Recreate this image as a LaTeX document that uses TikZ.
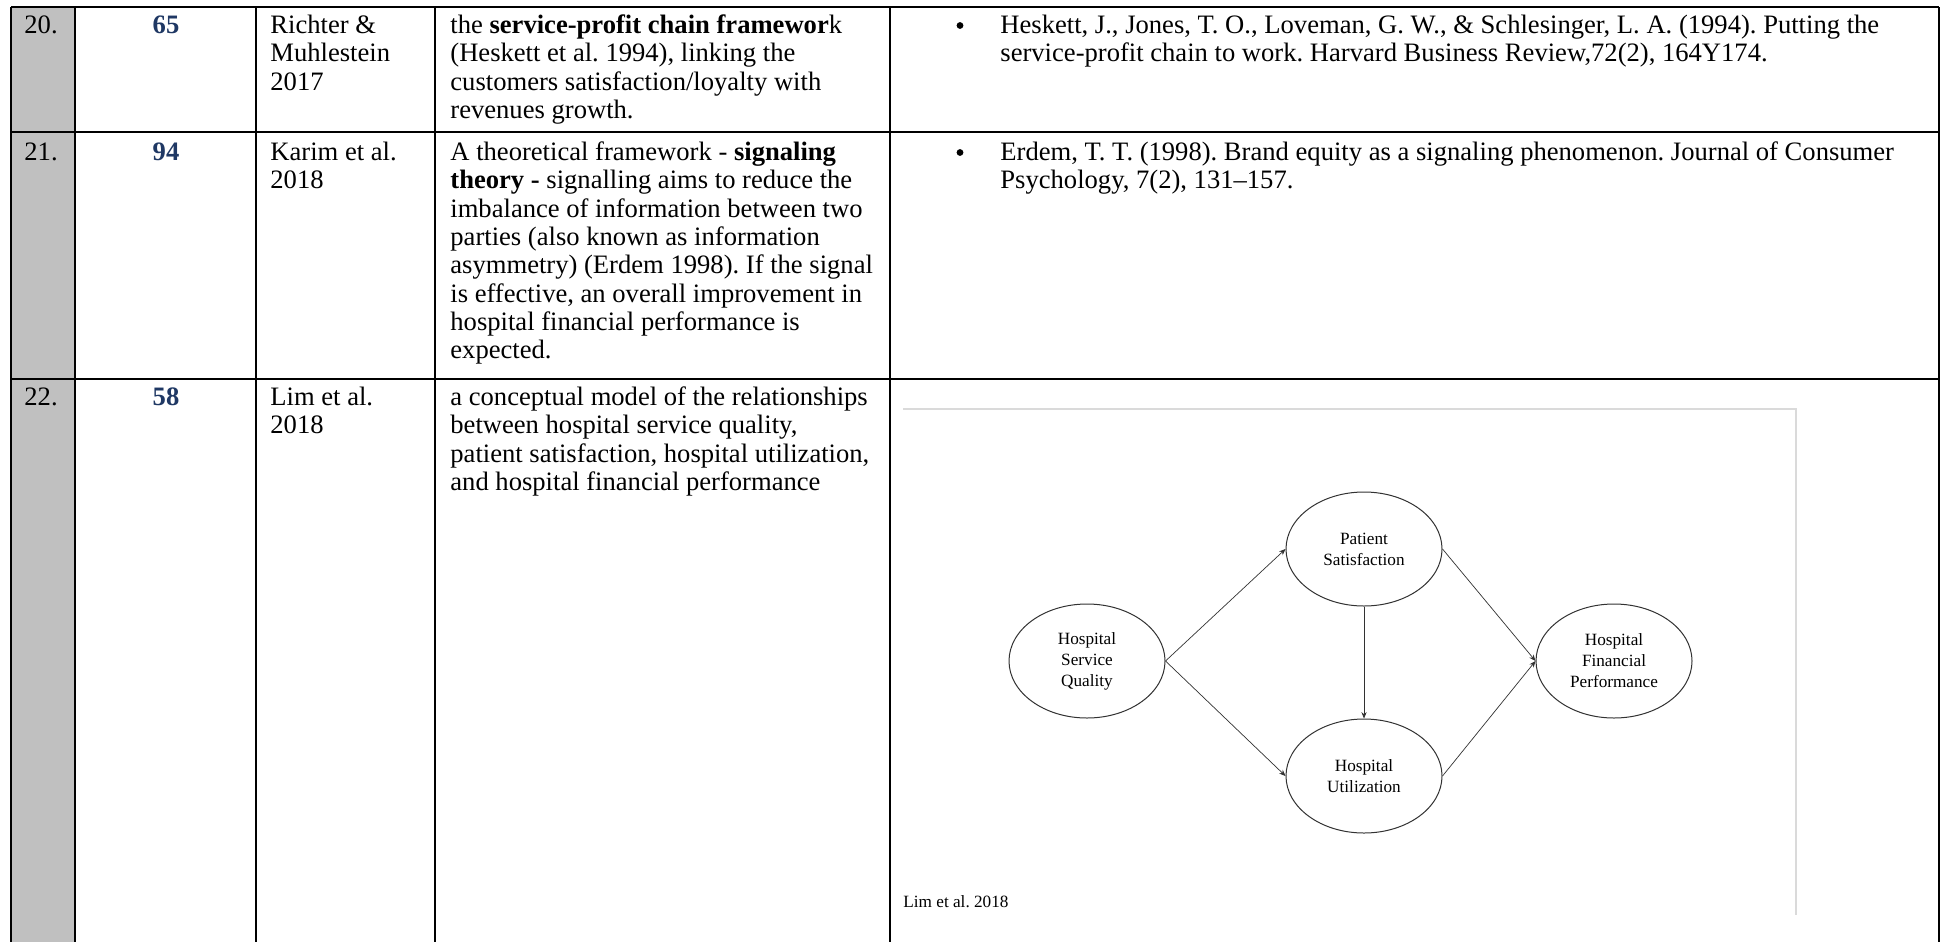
\documentclass[tikz,border=0pt]{standalone}
\usepackage{fontspec}
\setmainfont{Liberation Serif}
\usetikzlibrary{shapes.geometric,arrows.meta}
\definecolor{numblue}{RGB}{31,56,100}
\definecolor{colgray}{RGB}{192,192,192}
\definecolor{framegray}{RGB}{218,218,218}
\definecolor{ellgray}{RGB}{50,50,50}
\newcommand{\maintext}{\fontsize{13.3}{14.15}\selectfont\frenchspacing}
\newcommand{\figtext}{\fontsize{8.6}{10.5}\selectfont\frenchspacing}
\begin{document}
\begin{tikzpicture}[x=0.5pt,y=-0.5pt,
  cell/.style={anchor=north west,inner sep=0pt,align=left,font=\maintext},
  rownum/.style={anchor=base west,inner sep=0pt,font=\maintext},
  num/.style={anchor=base,inner sep=0pt,font=\maintext\bfseries,text=numblue},
  bul/.style={circle,fill=black,inner sep=0pt,minimum size=3.4pt},
  rule/.style={line width=1pt,black},
  ell/.style={ellipse,draw=ellgray,line width=0.5pt,minimum width=78pt,minimum height=57pt,inner sep=0pt,align=center,font=\figtext},
  arr/.style={draw=ellgray,line width=0.35pt,-{Stealth[length=3.2pt,width=2.6pt]}}]
\useasboundingbox (0,0) rectangle (1946,942);
\fill[white] (0,0) rectangle (1946,942);
% gray first column
\fill[colgray] (11,7) rectangle (75,942);
% table rules
\draw[rule] (11,7) -- (1939,7);
\draw[rule] (11,132) -- (1939,132);
\draw[rule] (11,379) -- (1939,379);
\foreach \xx in {11,75,256,435,890,1939} \draw[rule] (\xx,7) -- (\xx,942);

% Row 20
\node[rownum] (n20) at (24,33) {20.};
\node[num] (c20) at (166,33) {65};
\node[cell] (a20) at (270,13.3) {\strut Richter \&\\Muhlestein\\2017};
\node[cell] (d20) at (450,13.3) {\strut the \textbf{service-profit chain framewor}k\\(Heskett et al. 1994), linking the\\customers satisfaction/loyalty with\\revenues growth.};
\node[bul] (b20) at (960,25.5) {};
\node[cell] (r20) at (1000,13.3) {\strut Heskett, J., Jones, T. O., Loveman, G. W., \& Schlesinger, L. A. (1994). Putting the\\service-profit chain to work. Harvard Business Review,72(2), 164Y174.};

% Row 21
\node[rownum] (n21) at (24,160) {21.};
\node[num] (c21) at (166,160) {94};
\node[cell] (a21) at (270,140.3) {\strut Karim et al.\\2018};
\node[cell] (d21) at (450,140.3) {\strut A theoretical framework - \textbf{signaling}\\\textbf{theory -} signalling aims to reduce the\\imbalance of information between two\\parties (also known as information\\asymmetry) (Erdem 1998). If the signal\\is effective, an overall improvement in\\hospital financial performance is\\expected.};
\node[bul] (b21) at (960,152.5) {};
\node[cell] (r21) at (1000,140.3) {\strut Erdem, T. T. (1998). Brand equity as a signaling phenomenon. Journal of Consumer\\Psychology, 7(2), 131--157.};

% Row 22
\node[rownum] (n22) at (24,405) {22.};
\node[num] (c22) at (166,405) {58};
\node[cell] (a22) at (270,385.3) {\strut Lim et al.\\2018};
\node[cell] (d22) at (450,385.3) {\strut a conceptual model of the relationships\\between hospital service quality,\\patient satisfaction, hospital utilization,\\and hospital financial performance};

% figure frame
\coordinate (ftl) at (903,409);
\coordinate (ftr) at (1796,409);
\coordinate (fbr) at (1796,915);
\draw[framegray,line width=1pt] (ftl) -- (ftr) -- (fbr);

% figure nodes
\node[ell] (hsq) at (1087,661) {Hospital\\Service\\Quality};
\node[ell] (ps) at (1364,549) {Patient\\Satisfaction};
\node[ell] (hfp) at (1614,661) {Hospital\\Financial\\Performance};
\node[ell] (hu) at (1364,776) {Hospital\\Utilization};
\draw[arr] (hsq.east) -- (ps.west);
\draw[arr] (hsq.east) -- (hu.west);
\draw[arr] (ps.south) -- (hu.north);
\draw[arr] (ps.east) -- (hfp.west);
\draw[arr] (hu.east) -- (hfp.west);
\node[anchor=base west,inner sep=0pt,font=\figtext] (cap) at (903,907) {Lim et al. 2018};
\end{tikzpicture}
\end{document}
